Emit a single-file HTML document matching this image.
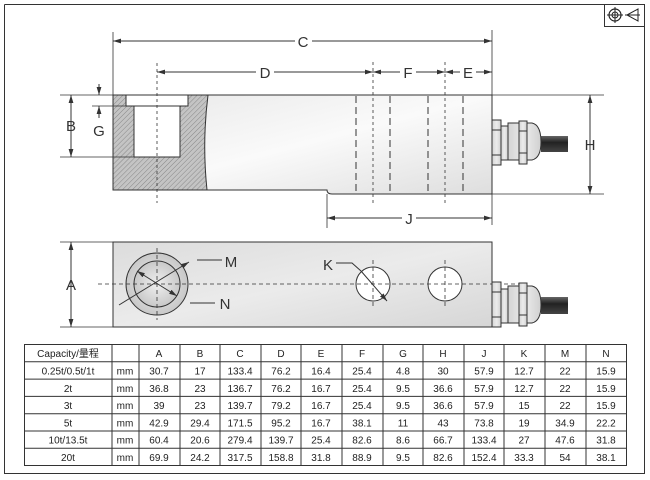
<!DOCTYPE html>
<html><head><meta charset="utf-8"><style>
body{margin:0;background:#fff}
svg{display:block;font-family:"Liberation Sans","Noto Sans CJK SC",sans-serif}
</style></head><body>
<svg width="650" height="480" viewBox="0 0 650 480" xmlns="http://www.w3.org/2000/svg">
<defs>
<pattern id="h" width="3.5" height="3.5" patternUnits="userSpaceOnUse" patternTransform="rotate(45)">
<rect width="4" height="4" fill="#c4c4c4"/><line x1="0" y1="0" x2="0" y2="4" stroke="#888" stroke-width="1"/></pattern>
<linearGradient id="g" x1="0" y1="0" x2="1" y2="1"><stop offset="0" stop-color="#e8e8e8"/><stop offset=".5" stop-color="#fafafa"/><stop offset="1" stop-color="#dedede"/></linearGradient>
<linearGradient id="g2" x1="0" y1="0" x2="1" y2="0"><stop offset="0" stop-color="#d4d4d4"/><stop offset=".5" stop-color="#ececec"/><stop offset="1" stop-color="#d0d0d0"/></linearGradient>
<linearGradient id="g3" x1="0" y1="0" x2="1" y2="1"><stop offset="0" stop-color="#dcdcdc"/><stop offset=".5" stop-color="#ebebeb"/><stop offset="1" stop-color="#d6d6d6"/></linearGradient>
<radialGradient id="rg"><stop offset="0" stop-color="#f0f0f0"/><stop offset="1" stop-color="#c8c8c8"/></radialGradient>
<linearGradient id="cb" x1="0" y1="0" x2="0" y2="1"><stop offset="0" stop-color="#666"/><stop offset=".4" stop-color="#222"/><stop offset="1" stop-color="#444"/></linearGradient>
<marker id="a" viewBox="0 0 10 6" refX="10" refY="3" markerWidth="8" markerHeight="5" orient="auto-start-reverse"><path d="M0,0 L10,3 L0,6z" fill="#333"/></marker>
</defs>
<path d="M4.5,4.5 H604 M4.5,4.5 V473.5 H644.5 V27" fill="none" stroke="#333"/>
<rect x="604.5" y="4.5" width="40" height="22" fill="none" stroke="#333"/>
<circle cx="615" cy="15" r="6" fill="none" stroke="#222" stroke-width="1.2"/><circle cx="615" cy="15" r="3" fill="none" stroke="#222"/>
<path d="M607,15 H623 M615,7 V23" stroke="#222"/>
<path d="M627,15 L638,9 V21 Z M625,15 H640" fill="none" stroke="#222"/>

<g stroke="#333" fill="none" stroke-width="1">
<path d="M113,95 H492 V194 H332 Q327,194 327,190 H113 Z" fill="url(#g)"/>
<path d="M113,95 H208 Q202,142 207,190 H113 Z" fill="url(#h)"/>
<rect x="126" y="95" width="62" height="11" fill="#fff"/>
<rect x="134" y="106" width="46" height="51" fill="#fff"/>
<path d="M113,95 H492 V194" />
<g stroke-dasharray="7,4"><path d="M356,96V193M390,96V193M428,96V193M463,96V193"/></g>
<g stroke-dasharray="3,3" stroke-width=".8"><path d="M157,63V203M373,62V206M445,62V206"/></g>
<path d="M113,32V190M492,30V225M327,194V228" stroke-width=".8"/>
<path d="M113,41H295" marker-start="url(#a)"/><path d="M312,41H492" marker-end="url(#a)"/>
<path d="M157,72H256" marker-start="url(#a)"/><path d="M274,72H373" marker-end="url(#a)"/>
<path d="M373,72H400" marker-start="url(#a)"/><path d="M416,72H445" marker-end="url(#a)"/>
<path d="M445,72H460" marker-start="url(#a)"/><path d="M476,72H492" marker-end="url(#a)"/>
<path d="M327,218H402" marker-start="url(#a)"/><path d="M416,218H492" marker-end="url(#a)"/>
<path d="M60,95H113M60,157H134M92,106H126M492,95H604M492,194H604" stroke-width=".8"/>
<path d="M71,95V157" marker-start="url(#a)" marker-end="url(#a)"/>
<path d="M99,84V95" marker-end="url(#a)"/><path d="M99,118V106" marker-end="url(#a)"/>
<path d="M590,95V194" marker-start="url(#a)" marker-end="url(#a)"/>
<rect x="541" y="136" width="27" height="16" fill="url(#cb)" stroke="none"/>
<path d="M508,123H532Q541,125 541,142Q541,158 532,160H508Z" fill="url(#g2)"/>
<rect x="501" y="126" width="7" height="34" fill="url(#g2)"/>
<rect x="492" y="120" width="9" height="45" fill="url(#g2)"/>
<path d="M492,130H501M492,155H501"/>
<rect x="519" y="121" width="8" height="43" fill="url(#g2)"/>
<path d="M519,131H527M519,153H527"/>

<rect x="113" y="242" width="379" height="85" fill="url(#g3)"/>
<path d="M60,242H113M60,327H113" stroke-width=".8"/>
<path d="M71,242V327" marker-start="url(#a)" marker-end="url(#a)"/>
<circle cx="157" cy="284" r="31" fill="url(#rg)"/>
<circle cx="157" cy="284" r="23" fill="url(#rg)"/>
<circle cx="373" cy="284" r="17" fill="#fff"/>
<circle cx="445" cy="284" r="17" fill="#fff"/>
<g stroke-dasharray="4,3" stroke-width=".8"><path d="M98,284H520M157,248V320M373,260V308M445,260V308"/></g>
<path d="M119,305L189,262" marker-end="url(#a)"/><path d="M197,260H222"/>
<path d="M137,271L177,296" marker-start="url(#a)" marker-end="url(#a)"/><path d="M190,303H215"/>
<path d="M336,263H352L361,271" /><path d="M361,271L387,301" marker-end="url(#a)"/>
<rect x="541" y="297" width="27" height="17" fill="url(#cb)" stroke="none"/>
<path d="M508,286H532Q541,288 541,305Q541,321 532,323H508Z" fill="url(#g2)"/>
<rect x="501" y="289" width="7" height="34" fill="url(#g2)"/>
<rect x="492" y="282" width="9" height="45" fill="url(#g2)"/>
<path d="M492,292H501M492,317H501"/>
<rect x="519" y="283" width="8" height="43" fill="url(#g2)"/>
<path d="M519,293H527M519,315H527"/>
</g>
<g font-size="15" fill="#333" text-anchor="middle">
<text x="303" y="47">C</text><text x="265" y="78">D</text><text x="408" y="78">F</text><text x="468" y="78">E</text>
<text x="409" y="224">J</text><text x="71" y="131">B</text><text x="99" y="136">G</text><text x="590" y="150">H</text>
<text x="71" y="290">A</text><text x="231" y="267">M</text><text x="225" y="309">N</text><text x="328" y="270">K</text>
</g>
<g stroke="#333" stroke-width="1" fill="none">
<rect x="24.5" y="344.5" width="602" height="121"/>
<path d="M24,361.8H627M24,379.1H627M24,396.4H627M24,413.7H627M24,431H627M24,448.3H627"/>
<path d="M112,344V466M139,344V466M180,344V466M220,344V466M261,344V466M301,344V466M342,344V466M383,344V466M423,344V466M464,344V466M504,344V466M545,344V466M586,344V466"/>
</g>
<g font-size="10" fill="#222" text-anchor="middle">
<text x="68" y="357">Capacity/量程</text>
<text x="159" y="357">A</text><text x="200" y="357">B</text><text x="240" y="357">C</text><text x="281" y="357">D</text><text x="321" y="357">E</text><text x="362" y="357">F</text><text x="403" y="357">G</text><text x="443" y="357">H</text><text x="484" y="357">J</text><text x="524" y="357">K</text><text x="565" y="357">M</text><text x="606" y="357">N</text>
</g>
<g font-size="10" fill="#222" text-anchor="middle">
<g transform="translate(0,374.5)"><text x="68">0.25t/0.5t/1t</text><text x="125">mm</text><text x="159">30.7</text><text x="200">17</text><text x="240">133.4</text><text x="281">76.2</text><text x="321">16.4</text><text x="362">25.4</text><text x="403">4.8</text><text x="443">30</text><text x="484">57.9</text><text x="524">12.7</text><text x="565">22</text><text x="606">15.9</text></g>
<g transform="translate(0,391.8)"><text x="68">2t</text><text x="125">mm</text><text x="159">36.8</text><text x="200">23</text><text x="240">136.7</text><text x="281">76.2</text><text x="321">16.7</text><text x="362">25.4</text><text x="403">9.5</text><text x="443">36.6</text><text x="484">57.9</text><text x="524">12.7</text><text x="565">22</text><text x="606">15.9</text></g>
<g transform="translate(0,409.1)"><text x="68">3t</text><text x="125">mm</text><text x="159">39</text><text x="200">23</text><text x="240">139.7</text><text x="281">79.2</text><text x="321">16.7</text><text x="362">25.4</text><text x="403">9.5</text><text x="443">36.6</text><text x="484">57.9</text><text x="524">15</text><text x="565">22</text><text x="606">15.9</text></g>
<g transform="translate(0,426.4)"><text x="68">5t</text><text x="125">mm</text><text x="159">42.9</text><text x="200">29.4</text><text x="240">171.5</text><text x="281">95.2</text><text x="321">16.7</text><text x="362">38.1</text><text x="403">11</text><text x="443">43</text><text x="484">73.8</text><text x="524">19</text><text x="565">34.9</text><text x="606">22.2</text></g>
<g transform="translate(0,443.7)"><text x="68">10t/13.5t</text><text x="125">mm</text><text x="159">60.4</text><text x="200">20.6</text><text x="240">279.4</text><text x="281">139.7</text><text x="321">25.4</text><text x="362">82.6</text><text x="403">8.6</text><text x="443">66.7</text><text x="484">133.4</text><text x="524">27</text><text x="565">47.6</text><text x="606">31.8</text></g>
<g transform="translate(0,461)"><text x="68">20t</text><text x="125">mm</text><text x="159">69.9</text><text x="200">24.2</text><text x="240">317.5</text><text x="281">158.8</text><text x="321">31.8</text><text x="362">88.9</text><text x="403">9.5</text><text x="443">82.6</text><text x="484">152.4</text><text x="524">33.3</text><text x="565">54</text><text x="606">38.1</text></g>
</g>
</svg>
</body></html>
